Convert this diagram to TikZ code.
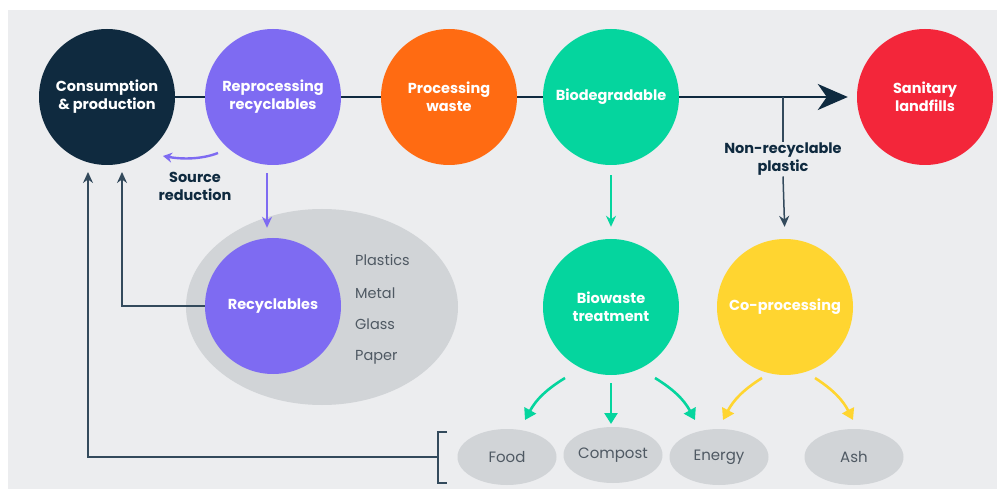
\documentclass[tikz,border=0pt]{standalone}
\usepackage{fontspec}
\setmainfont{Poppins}
\usetikzlibrary{arrows.meta,calc,shapes.geometric}
\pgfdeclarelayer{bg}
\pgfdeclarelayer{back}
\pgfsetlayers{bg,back,main}
\definecolor{navy}{HTML}{0F2A3F}
\definecolor{purp}{HTML}{7E6BF2}
\definecolor{orng}{HTML}{FF6B12}
\definecolor{grn}{HTML}{05D59E}
\definecolor{rd}{HTML}{F3263A}
\definecolor{ylw}{HTML}{FFD530}
\definecolor{elgray}{HTML}{D1D4D7}
\definecolor{bggray}{HTML}{ECEDEF}
\definecolor{txgray}{HTML}{4F5963}
\begin{document}
\begin{tikzpicture}[x=1pt,y=-1pt,
  circ/.style={circle, minimum size=136pt, inner sep=0pt, text=white, align=center,
    font=\bfseries\fontsize{14.5}{18}\selectfont},
  outell/.style={ellipse, fill=elgray, minimum width=99pt, minimum height=56pt, inner sep=0pt,
    text=txgray, font=\fontsize{15}{17}\selectfont},
  mat/.style={anchor=west, text=txgray, inner sep=0pt, font=\fontsize{14.5}{16}\selectfont},
  navyline/.style={draw=navy, line width=2.4pt},
  thinline/.style={draw=navy!85, line width=1.5pt},
  colarrow/.style={line width=2.6pt, -{Triangle[length=11pt,width=13pt]}},
  lbl/.style={text=navy, align=center, inner sep=1pt, font=\bfseries\fontsize{14.5}{18}\selectfont}
]
\useasboundingbox (0,0) rectangle (997,489);
\begin{pgfonlayer}{bg}
\fill[white] (0,0) rectangle (997,489);
\fill[bggray] (8,10) rectangle (997,489);
\end{pgfonlayer}

% gray ellipse behind recyclables
\node[ellipse, fill=elgray, minimum width=272pt, minimum height=196pt, inner sep=0pt] (grp) at (322,307) {};

% top row
\node[circ, fill=navy]  (cons) at (107,97) {Consumption\\\& production};
\node[circ, fill=purp]  (repro) at (273,97) {Reprocessing\\recyclables};
\node[circ, fill=orng]  (proc) at (449,97) {Processing\\waste};
\node[circ, fill=grn]   (bio) at (611,97) {Biodegradable};
\node[circ, fill=rd]    (land) at (925,97) {Sanitary\\landfills};
\coordinate (br) at (783,97);
\begin{pgfonlayer}{back}
\draw[navyline, -{Stealth[length=30pt,width=26pt,inset=9pt]}, shorten >=9pt] (cons.center) -- (land.west);
\end{pgfonlayer}

% lower circles
\node[circ, fill=purp]  (recyc) at (273,306) {Recyclables};
\node[circ, fill=grn]   (biow) at (611,307) {Biowaste\\treatment};
\node[circ, fill=ylw]   (cop) at (785,307) {Co-processing};

% materials
\node[mat] (pl) at (355,260) {Plastics};
\node[mat] (me) at (355,293) {Metal};
\node[mat] (gl) at (355,324) {Glass};
\node[mat] (pa) at (355,357) {Paper};

% products
\node[outell] (food) at (507,457) {Food};
\node[outell] (comp) at (613,455) {Compost};
\node[outell] (ener) at (719,457) {Energy};
\node[outell] (ash)  at (854,457) {Ash};

% non-recyclable branch
\node[lbl] (nrp) at (783,159) {Non-recyclable\\plastic};
\draw[thinline] (br) -- (nrp.north);
\draw[thinline, -{Stealth[length=11pt,width=10pt]}, shorten >=12pt] (nrp.south) -- (cop.north);

% source reduction
\node[lbl] (srcred) at (195,186) {Source\\reduction};
\coordinate (sr1) at (218,153);
\coordinate (sr2) at (163,156);
\draw[purp, line width=2.4pt, -{Stealth[length=9pt,width=10pt]}] (sr1) .. controls (200,160) and (180,159) .. (sr2);

% vertical arrows
\draw[purp, line width=2pt, -{Stealth[length=11pt,width=10pt]}, shorten <=8pt, shorten >=10pt] (repro.south -| 267,0) -- (recyc.north -| 267,0);
\draw[grn, line width=2pt, -{Stealth[length=11pt,width=10pt]}, shorten <=10pt, shorten >=12pt] (bio.south) -- (biow.north);

% return lines
\coordinate (c1) at (122,172);
\coordinate (c2) at (88,172);
\coordinate (brk) at (438,457);
\draw[thinline, -{Stealth[length=11pt,width=10pt]}] (recyc.west) -| (c1);
\draw[thinline, -{Stealth[length=11pt,width=10pt]}] (brk) -| (c2);
\draw[thinline] (447,432) -- (438,432) -- (438,483) -- (447,483);

% product arrows
\coordinate (g1s) at (565,378); \coordinate (g1e) at (525,420);
\coordinate (g2s) at (611,383); \coordinate (g2e) at (611,424);
\coordinate (g3s) at (655,378); \coordinate (g3e) at (695,420);
\coordinate (y1s) at (762,378); \coordinate (y1e) at (723,420);
\coordinate (y2s) at (815,378); \coordinate (y2e) at (853,420);
\draw[grn, colarrow] (g1s) to[bend right=15] (g1e);
\draw[grn, colarrow] (g2s) -- (g2e);
\draw[grn, colarrow] (g3s) to[bend left=15] (g3e);
\draw[ylw, colarrow] (y1s) to[bend right=15] (y1e);
\draw[ylw, colarrow] (y2s) to[bend left=15] (y2e);
\end{tikzpicture}
\end{document}
